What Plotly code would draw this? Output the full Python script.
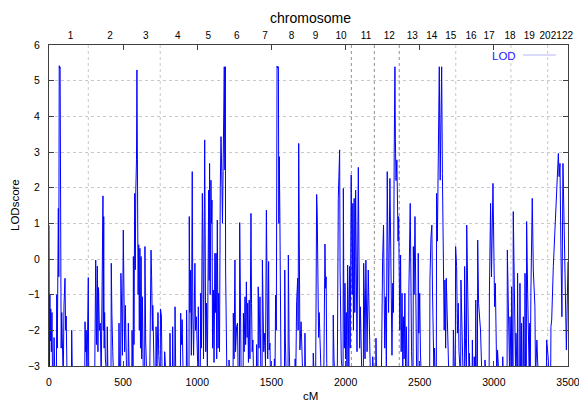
import plotly.graph_objects as go

# ---- data: (cM, LOD score) pairs, per stretch of genome ----
seg_a = [(0, 0.95), (3, -3.4), (6, -1.0), (9, -2.3), (12, -1.4), (16, -2.6), (20, -1.5), (24, -3.4), (32, -3.4), (34, -2.2),
         (40, -3.4), (50, -3.4), (52, -1.0), (56, -2.5), (63, 1.42), (66, -0.5), (69, 5.42), (72, 5.35), (75, 5.38), (78, -0.12),
         (82, -2.5), (86, -1.5), (90, -2.1), (96, -3.4), (101, -1.3), (108, -0.54), (112, -2.0), (116, -1.6), (122, -3.4),
         (151, -3.4), (153, -2.0), (158, -3.4), (241, -3.4), (243, -1.76), (247, -2.6), (251, -2.0), (256, -3.4), (265, -0.52),
         (268, -3.4), (308, -3.4), (310, -2.3), (315, -0.03), (320, -2.4), (326, -0.2), (330, -2.6), (334, -0.8), (340, -2.0),
         (346, -1.8), (352, -3.4), (360, -0.3), (364, 1.77), (366, -2.0), (369, 1.19), (372, -2.5), (375, -1.5), (380, -2.8),
         (384, -3.4), (391, -3.4), (393, -1.9), (398, -3.4), (418, -3.4), (420, -0.12), (424, -1.5), (430, -2.6), (436, -3.4),
         (470, -3.4), (472, -1.8), (476, -3.4), (483, -3.4), (485, -0.4), (490, -1.4), (495, -2.7), (501, 0.81), (505, -1.5),
         (510, -2.6), (515, -1.3), (520, -2.8), (524, -3.4), (533, -3.4), (535, -1.8), (542, -3.4), (558, -3.4), (560, -2.0),
         (563, -3.4), (567, -3.4), (569, 0.07), (573, -2.4), (578, 1.84), (582, -0.3), (585, 1.84), (590, 2.78), (593, 5.3),
         (595, 2.6), (598, 2.4), (601, -1.0), (605, 0.4), (609, -2.0), (613, 0.3), (617, -2.5), (621, 0.07), (625, -2.8),
         (630, -1.06), (636, -3.4), (645, -3.4), (647, 0.35), (652, -2.3), (660, -3.4), (679, -3.4), (681, -1.6), (688, 0.25),
         (692, -0.5), (697, -2.0), (700, -1.3), (706, -2.8), (710, -3.4), (720, -3.4), (722, -1.9), (728, -3.0), (735, -1.5),
         (740, -2.7), (744, -3.4), (750, -3.4), (752, -1.4), (758, -1.6), (763, -3.4), (778, -3.4), (780, -2.6), (790, -3.4),
         (814, -3.4), (816, -2.08), (820, -3.4), (832, -3.4), (834, -1.9), (838, -3.4), (848, -3.4)]

seg_b = [(850, -1.34), (855, -3.4), (886, -3.4), (888, -1.52), (893, -2.4), (898, -1.7), (905, -3.4), (926, -3.4), (928, -1.43),
         (933, -3.4), (944, -3.4), (946, 1.19), (950, -1.5), (955, -0.31), (960, -2.7), (966, 2.45), (970, -1.6), (975, -2.7),
         (984, -0.12), (988, -2.0), (994, -1.62), (998, -3.4), (1005, -3.4), (1007, -1.34), (1011, -3.4), (1020, -3.4),
         (1023, -0.96), (1028, -2.5), (1034, 1.84), (1038, 0.49), (1042, -2.8), (1050, 3.34), (1053, -0.21), (1057, -2.6),
         (1062, -1.24), (1068, -3.0), (1077, 1.93), (1080, -0.6), (1083, 2.68), (1087, -1.0), (1092, 2.21), (1096, 1.0),
         (1099, 1.65), (1103, -2.5), (1108, -0.87), (1113, -2.9), (1119, 0.16), (1123, -1.5), (1127, 0.16), (1131, -2.8),
         (1135, 1.09), (1140, -2.5), (1144, -0.96), (1150, -2.6), (1155, 2.0), (1160, 3.43), (1165, 2.45), (1170, 1.0),
         (1174, 2.45), (1178, 3.52), (1182, 5.39), (1186, 2.5), (1189, 5.39), (1191, -0.31), (1195, -1.52), (1200, -3.4),
         (1212, -3.4), (1214, -2.83), (1220, -3.4), (1241, -3.4), (1243, -1.52), (1248, -2.8), (1254, -0.03), (1258, -2.6),
         (1265, -1.9), (1271, -1.8), (1275, -3.0), (1284, -3.4), (1286, 1.02), (1290, -2.27), (1296, -3.4), (1309, -3.4),
         (1311, -1.52), (1316, -2.6), (1322, -1.06), (1326, -2.4), (1331, -0.64), (1336, -2.2), (1340, -1.24), (1345, -2.9),
         (1350, -1.15), (1355, -2.8), (1362, 1.28), (1366, -1.24), (1370, -2.6), (1375, -2.27), (1380, -3.4), (1398, -3.4),
         (1400, -2.4), (1404, -3.4), (1409, -3.4), (1411, -0.78), (1416, -2.5), (1423, -1.06), (1428, -3.0), (1437, -3.4),
         (1439, -0.03), (1443, -1.8), (1448, -2.6), (1455, -2.08), (1460, -3.0), (1466, 1.37), (1470, -1.06), (1475, -2.8),
         (1481, -0.07), (1485, -2.55), (1490, -2.36), (1494, -3.4), (1518, -3.4), (1520, -2.8), (1524, -3.4), (1528, -1.01),
         (1533, -2.0), (1538, 5.41), (1542, 5.35), (1547, 5.39), (1550, 1.0), (1553, 2.87), (1557, 1.19), (1560, -2.27),
         (1565, -3.4), (1588, -3.4), (1590, -0.31), (1594, -2.27), (1598, -3.0), (1612, -3.4), (1614, 0.11), (1619, -2.27),
         (1625, -3.4), (1658, -3.4), (1660, -2.8), (1664, -3.4), (1670, -1.2), (1677, -0.54), (1680, -2.0), (1684, 3.24),
         (1688, 0.53), (1692, -2.55), (1700, -1.76), (1705, -2.83), (1712, -3.4), (1724, -3.4)]

seg_c = [(1726, -2.08), (1730, -3.4), (1780, -3.4), (1782, -2.64), (1790, -3.4), (1798, -3.4), (1800, -0.45), (1805, 1.81),
         (1809, 1.23), (1813, -1.52), (1818, -2.2), (1822, -1.5), (1830, -2.83), (1836, -3.4), (1853, -3.4), (1855, -2.5),
         (1861, 0.42), (1865, -0.82), (1869, -0.5), (1873, -2.93), (1880, -3.4), (1915, -3.4), (1917, -1.57), (1922, -2.83),
         (1930, -3.4), (1944, -3.4), (1946, -0.87), (1951, 1.7), (1955, 2.31), (1960, 3.06), (1963, -0.31), (1967, -1.24),
         (1971, -2.8), (1983, -3.4), (1985, 1.98), (1988, -0.78), (1992, -2.5), (1996, -0.68), (2000, -2.8), (2005, -1.5),
         (2010, -3.4), (2014, -0.17), (2018, -1.34), (2022, -3.0), (2027, -0.21), (2031, -2.5), (2038, 2.36), (2041, 0.81),
         (2045, -1.0), (2049, 1.56), (2053, -2.0), (2058, 1.7), (2062, -1.5), (2068, 1.93), (2072, -0.31), (2077, -2.6),
         (2086, 2.57), (2090, -0.31), (2095, -2.5), (2100, -1.34), (2105, -2.9), (2110, -3.4), (2120, -3.4), (2122, -0.12),
         (2127, -1.15), (2131, -2.8), (2137, -0.03), (2140, -1.15), (2145, -2.6), (2153, -0.31), (2158, -1.52), (2163, -2.08),
         (2168, -3.4), (2181, -3.4), (2183, -2.74), (2190, -3.4), (2203, -3.4), (2205, -2.22), (2210, -3.4), (2241, -3.4),
         (2243, -1.94), (2250, 0.02), (2256, 0.95), (2260, -0.21), (2264, -2.5), (2270, -1.06), (2275, -3.0), (2281, 2.45),
         (2285, 1.28), (2290, -1.5), (2299, 2.26), (2303, 0.91), (2308, -0.03), (2313, -2.7), (2318, -0.68), (2323, -1.5),
         (2328, 2.96), (2333, 5.39), (2336, 3.34), (2340, 2.2), (2346, 2.78), (2350, 1.19), (2354, 0.5), (2358, 1.19),
         (2362, 0.07), (2366, -2.0), (2371, 0.11), (2375, -2.6), (2381, -0.96), (2386, -3.0), (2390, -1.62), (2395, -2.8),
         (2400, -0.96), (2405, -3.2), (2410, -1.9), (2416, -3.4), (2425, -3.4), (2427, -0.87), (2436, 1.56), (2440, -1.52),
         (2445, -2.6), (2450, -3.4), (2455, -3.4), (2457, 0.35), (2462, -1.0), (2468, 1.19), (2472, -0.4), (2476, -2.5),
         (2480, -3.4), (2488, -3.4), (2490, 0.16), (2494, -2.08), (2500, -0.96), (2505, -2.64), (2511, -3.4), (2548, -3.4),
         (2550, -3.2), (2554, -3.4), (2567, -3.4), (2569, -0.59), (2576, 0.63), (2582, 0.95), (2586, -0.87), (2590, -1.9),
         (2595, -3.0), (2600, -2.5), (2604, -3.4), (2612, -3.4)]

seg_d = [(2614, 1.84), (2619, 0.5), (2625, 2.31), (2632, 5.39), (2638, 2.21), (2642, 4.0), (2648, 5.39), (2653, 2.4),
         (2659, -0.78), (2665, -2.0), (2670, -0.59), (2675, -2.5), (2679, -0.54), (2686, -2.27), (2697, -3.4), (2725, -3.4),
         (2727, -1.99), (2733, -3.0), (2740, -3.4), (2742, 0.35), (2749, -0.21), (2754, -2.08), (2760, -1.24), (2765, -2.6),
         (2769, -3.4), (2776, -3.4), (2778, -0.59), (2787, -2.08), (2792, -3.2), (2801, -3.4), (2803, -0.21), (2808, -2.2),
         (2815, -3.4), (2817, 0.95), (2823, -1.43), (2827, -3.4), (2833, -3.4), (2835, -2.64), (2839, -3.4), (2853, -3.4),
         (2855, -2.27), (2859, -3.4), (2866, -3.4), (2868, -2.74), (2872, -3.4), (2876, -3.4), (2878, -1.15), (2882, -3.4),
         (2889, -3.4), (2891, 0.53), (2897, -1.24), (2903, -1.62), (2910, -1.99), (2920, -3.4), (2938, -3.4), (2940, -2.83),
         (2950, -3.4), (2968, -3.4), (2970, -0.92), (2978, 1.56), (2984, -0.5), (2994, 2.12), (3000, 0.35), (3005, -1.34),
         (3010, -0.68), (3016, -2.27), (3020, -3.4), (3025, -2.55), (3035, -3.4), (3058, -3.4), (3060, -2.74), (3064, -3.4),
         (3080, -3.4), (3089, -3.4), (3091, 0.25), (3097, -1.34), (3101, -3.4), (3107, -3.4), (3109, -1.62), (3113, -3.4),
         (3118, -3.4), (3120, -0.78), (3124, -3.4), (3129, -3.4), (3131, 1.33), (3138, -1.15), (3142, -3.4), (3147, -3.4),
         (3149, -2.08), (3153, -3.4), (3158, -3.4), (3160, -0.4), (3164, -3.4), (3174, -3.4), (3176, -0.68), (3180, -3.4),
         (3185, -3.4), (3187, -1.8), (3191, -3.4), (3197, -3.4), (3199, -1.62), (3203, -3.4), (3208, -3.4), (3210, -0.4),
         (3214, -3.4), (3219, -3.4), (3221, 1.05), (3228, -0.96), (3232, -3.4), (3239, -3.4), (3241, -1.8), (3245, -3.4),
         (3250, -0.87), (3259, 1.7), (3266, -0.31), (3277, -1.34), (3281, -3.4), (3290, -2.27), (3300, -3.4), (3354, -3.4),
         (3356, -2.27), (3367, -2.8), (3371, -3.4), (3383, -3.4), (3385, -1.9), (3390, -1.71), (3401, -0.21), (3412, 0.86),
         (3421, 1.93), (3428, 2.5), (3435, 2.96), (3440, 2.31), (3446, 2.68), (3452, 0.35), (3459, -1.62), (3466, 2.68),
         (3472, 0.91), (3480, -0.4), (3489, -2.55), (3495, -0.5), (3500, -0.08)]

chrom_names = [str(i) for i in range(1, 23)]
chrom_mid = [146, 411, 652, 868, 1074, 1266, 1457, 1635, 1798, 1969, 2138, 2295,
             2450, 2581, 2709, 2846, 2967, 3109, 3239, 3345, 3421, 3497]

vlines_light = [265, 750, 2743, 3115, 3363]
vlines_dark = [2039, 2194, 2362]

x_ticks = [0, 500, 1000, 1500, 2000, 2500, 3000, 3500]
y_ticks = [-3, -2, -1, 0, 1, 2, 3, 4, 5, 6]

points = seg_a + seg_b + seg_c + seg_d
cM = [p[0] for p in points]
lod = [p[1] for p in points]

FONT = "Liberation Sans, Arial, sans-serif"

fig = go.Figure()
fig.add_trace(go.Scatter(x=cM, y=lod, mode="lines", name="LOD",
                         line=dict(color="#0000ff", width=1), showlegend=False))
fig.add_trace(go.Scatter(x=[0, 3500], y=[None, None], mode="lines", xaxis="x2",
                         showlegend=False, hoverinfo="skip"))

for v in vlines_light:
    fig.add_shape(type="line", x0=v, x1=v, y0=0, y1=1, xref="x", yref="paper",
                  line=dict(color="#c8c8c8", width=1, dash="dot"), layer="below")
for v in vlines_dark:
    fig.add_shape(type="line", x0=v, x1=v, y0=0, y1=1, xref="x", yref="paper",
                  line=dict(color="#909090", width=1, dash="dot"), layer="below")

PW, PH = 519, 321
# key: text then line sample (gnuplot style)
fig.add_annotation(x=(504 - 49) / PW, y=1 - (55.7 - 45) / PH, xref="paper", yref="paper", text="LOD",
                   showarrow=False, font=dict(family=FONT, size=11.5, color="#2020ff"),
                   xanchor="center", yanchor="middle")
fig.add_shape(type="line", x0=(523 - 49) / PW, x1=(556 - 49) / PW, y0=1 - (55 - 45) / PH, y1=1 - (55 - 45) / PH,
              xref="paper", yref="paper", line=dict(color="#b8b8f0", width=1))

# titles
fig.add_annotation(x=(310 - 49) / PW, y=1 + (45 - 18) / PH, xref="paper", yref="paper", text="chromosome",
                   showarrow=False, font=dict(family=FONT, size=14, color="#000"), yanchor="middle")
fig.add_annotation(x=(310 - 49) / PW, y=-(396 - 366) / PH, xref="paper", yref="paper", text="cM",
                   showarrow=False, font=dict(family=FONT, size=11.5, color="#000"), yanchor="middle")
fig.add_annotation(x=-(49 - 15) / PW, y=(366 - 205) / PH, xref="paper", yref="paper", text="LODscore",
                   showarrow=False, textangle=-90, font=dict(family=FONT, size=11.5, color="#000"),
                   xanchor="center", yanchor="middle")

fig.update_layout(
    width=579, height=401,
    margin=dict(l=49, r=11, t=45, b=35),
    paper_bgcolor="white", plot_bgcolor="white",
    font=dict(family=FONT, size=10.5, color="#000"),
    xaxis=dict(range=[0, 3500], tickvals=x_ticks, ticks="inside", ticklen=5, tickcolor="#404040",
               showline=True, linecolor="#404040", linewidth=1, mirror="ticks",
               showgrid=False, zeroline=False, ticklabelstandoff=6, ticklabeloverflow="allow",
               tickangle=0, automargin=False),
    xaxis2=dict(range=[0, 3500], overlaying="x", side="top", tickvals=chrom_mid, ticktext=chrom_names,
                ticks="", showline=False, showgrid=False, zeroline=False, ticklabelstandoff=3,
                tickangle=0, ticklabeloverflow="allow", automargin=False,
                tickfont=dict(family=FONT, size=10, color="#000")),
    yaxis=dict(range=[-3, 6], tickvals=y_ticks, ticks="inside", ticklen=5, tickcolor="#404040",
               showline=True, linecolor="#404040", linewidth=1, mirror="ticks",
               showgrid=True, gridcolor="#c8c8c8", griddash="dot", gridwidth=1,
               zeroline=False, ticklabelstandoff=6, automargin=False),
)

fig.write_html("out.html")
